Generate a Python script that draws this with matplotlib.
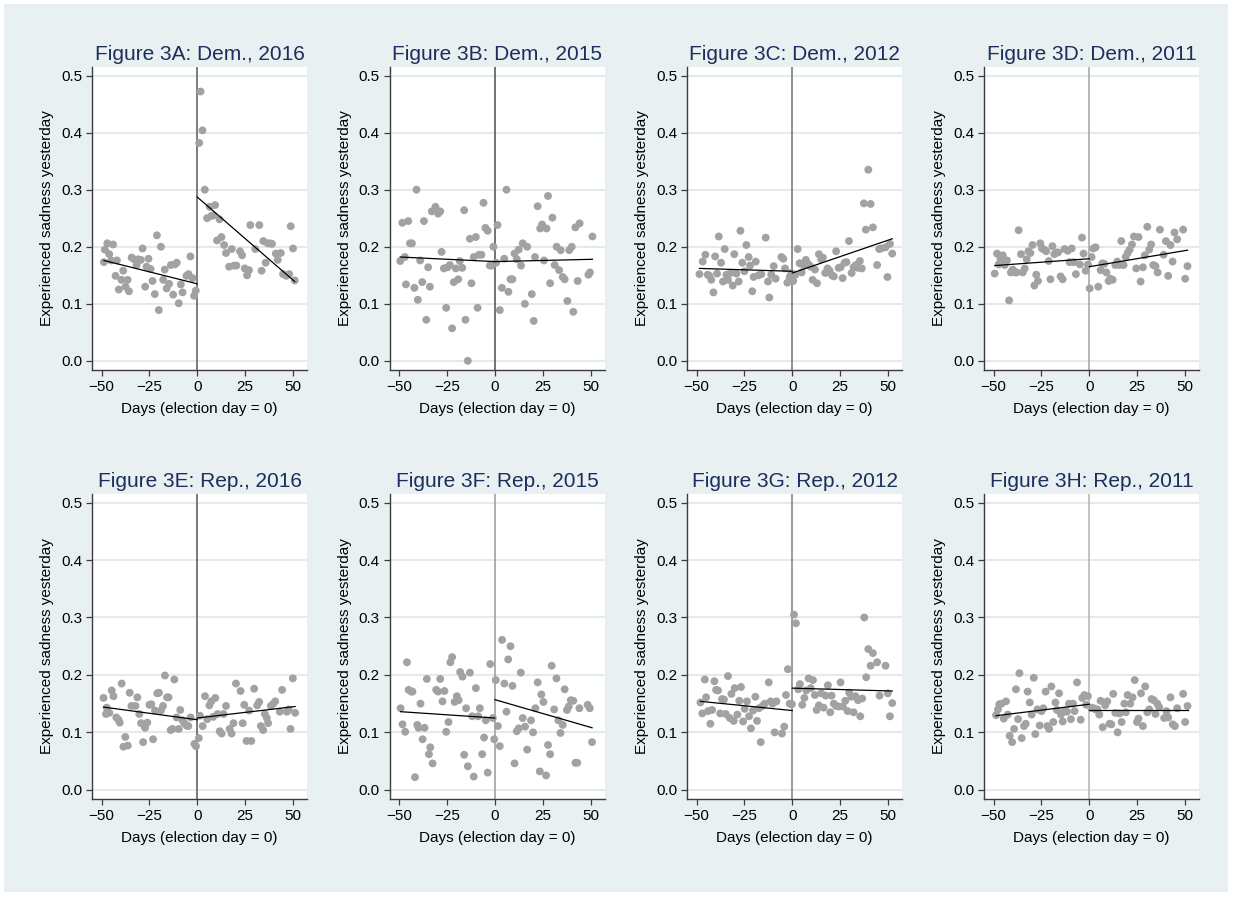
#!/usr/bin/env python3
"""Daily share reporting sadness around election day, Dem./Rep. respondents, 4 years each."""
import matplotlib.pyplot as plt
from matplotlib.patches import Rectangle

plt.rcParams['font.family'] = ['Liberation Sans', 'DejaVu Sans']

# --- daily means (days relative to election day, share sad yesterday) ---
dem16_days = [-48.8, -48.3, -47, -46, -45, -44, -42.7, -42, -41, -39.6,
              -38.7, -37.5, -36.4, -35.7, -34.3, -33, -31.7, -30.9, -29.5, -28.6,
              -27.2, -26.5, -25.5, -24.4, -23.4, -22.2, -21.1, -20.1, -19, -17.8,
              -17, -16, -14.7, -13.8, -12.6, -11.7, -10.7, -9.7, -8.6, -7.7,
              -5.7, -4.6, -3.6, -2.5, -1.7, -0.8, 1, 1.7, 2.7, 3.9,
              5.1, 6.5, 7.4, 8.3, 9.3, 10.3, 11.6, 12.6, 14, 15,
              16.6, 18, 19.2, 20.4, 22.3, 23.4, 24.8, 26, 27, 27.7,
              30.3, 32.4, 33.6, 34.5, 35.7, 36.8, 38, 39, 41, 42,
              43.6, 44.8, 46.5, 48, 48.8, 50, 50.9]
dem16_sad = [.173, .195, .206, .187, .176, .204, .149, .176, .125, .142,
             .158, .130, .142, .122, .181, .178, .168, .178, .177, .197,
             .130, .165, .179, .161, .140, .117, .220, .089, .200, .142,
             .160, .127, .135, .168, .116, .169, .172, .101, .134, .120,
             .149, .152, .183, .145, .114, .123, .382, .472, .404, .300,
             .250, .270, .254, .255, .273, .211, .248, .217, .203, .189,
             .165, .196, .167, .167, .192, .185, .162, .150, .159, .238,
             .196, .238, .158, .210, .172, .206, .206, .205, .188, .177,
             .189, .152, .149, .152, .236, .197, .141]

dem15_days = [-49.4, -48.3, -47, -46.4, -45.2, -44.3, -43.3, -42, -40.9, -40.2,
              -39, -37.9, -37, -35.8, -34.8, -33.9, -32.9, -31, -29.6, -28.5,
              -27.8, -26.6, -25.4, -24.7, -23.5, -22.3, -21.4, -20.3, -19.1, -18.3,
              -17, -16, -15.3, -14.1, -13, -12.2, -11, -9.9, -9, -8.2,
              -7, -5.9, -4.9, -3.7, -2.6, -1.6, -0.7, 0.7, 1.4, 2.6,
              3.7, 4.9, 6.1, 7.1, 8.2, 9.2, 10.3, 11.5, 12.5, 13.7,
              14.6, 15.7, 16.9, 19.3, 20.3, 21, 22.4, 23.7, 24.7, 25.7,
              27, 27.8, 28.9, 30.1, 31.3, 32.3, 33.6, 34.4, 35.5, 36.5,
              37.9, 38.9, 40.2, 41, 42.1, 43.3, 44.3, 48.9, 49.7, 51]
dem15_sad = [.175, .242, .182, .134, .245, .206, .206, .128, .300, .107,
             .176, .138, .245, .072, .164, .130, .262, .270, .258, .262,
             .191, .162, .093, .164, .168, .057, .138, .162, .143, .175,
             .163, .264, .072, .000, .214, .136, .182, .217, .093, .186,
             .186, .277, .233, .228, .167, .167, .200, .172, .238, .089,
             .128, .179, .300, .121, .143, .143, .188, .178, .195, .167,
             .206, .100, .200, .117, .070, .182, .271, .232, .239, .176,
             .232, .289, .136, .251, .168, .200, .159, .194, .147, .143,
             .105, .194, .200, .086, .234, .140, .241, .151, .155, .218]

dem12_days = [-48.5, -46.8, -45.4, -44.2, -43.3, -42.3, -41.2, -40.3, -39.3, -38.4,
              -37.2, -36.2, -35.3, -34.4, -33.6, -32.3, -31.1, -30.3, -29.2, -28,
              -27.1, -26.1, -25, -24, -22.8, -22.1, -20.9, -20.2, -19.1, -17.6,
              -16.2, -13.9, -12.7, -12, -11, -9.7, -8.7, -5.7, -4.7, -3.8,
              -2.6, -1.4, -0.5,
              0.5, 1.7, 2.8, 3.8, 4.9, 6.1, 7.1, 8.5, 9.6, 10.6,
              11.8, 12.9, 13.9, 15.1, 16, 17.2, 18.4, 19.5, 20.7, 21.7,
              22.9, 24.2, 25.2, 26.3, 27.3, 28.3, 29.6, 31, 32, 33.2,
              34.3, 35.3, 36.3, 37.4, 38.4, 39.7, 40.9, 42.1, 44.3, 45.4,
              46.4, 48.7, 49.7, 51, 52.2]
dem12_sad = [.152, .174, .186, .151, .149, .142, .120, .183, .153, .218,
             .172, .139, .196, .151, .142, .154, .132, .187, .153, .139,
             .228, .172, .157, .203, .182, .167, .122, .147, .174, .150,
             .152, .216, .139, .111, .151, .166, .144, .182, .179, .162,
             .137, .147, .154,
             .140, .151, .196, .171, .155, .167, .177, .169, .165, .142,
             .160, .136, .187, .178, .181, .154, .162, .158, .150, .148,
             .192, .163, .164, .145, .172, .173, .210, .154, .164, .168,
             .163, .175, .162, .276, .230, .335, .275, .234, .168, .196,
             .197, .199, .147, .205, .188]

dem11_days = [-49.4, -48.2, -47.3, -46.4, -45.2, -44.2, -43, -41.9, -41, -40,
              -38.8, -37.9, -36.9, -35.7, -34.8, -33.7, -32.7, -31.8, -30.8, -29.7,
              -28.7, -27.7, -26.8, -25.6, -24.7, -23.5, -22.5, -21.2, -20.3, -19.3,
              -18.3, -17.2, -16.3, -15, -13.9, -12.9, -11.3, -10.3, -9.2, -8.2,
              -7, -4.9, -3.8, -3, -1.9, -0.7,
              0.2, 1.2, 2.1, 3.3, 4.7, 5.9, 6.8, 7.8, 8.9, 10.1,
              11, 12.2, 13.6, 14.6, 15.7, 16.7, 17.9, 19, 20, 21.1,
              22.3, 23.3, 24.5, 25.7, 26.8, 28, 29, 30.3, 31.3, 32.3,
              33.4, 34.6, 35.7, 36.9, 38.8, 40, 41.2, 42.4, 43.5, 44.5,
              45.9, 49, 50.1, 51.3]
dem11_sad = [.153, .188, .169, .179, .185, .168, .176, .106, .155, .160,
             .155, .155, .229, .187, .155, .162, .178, .192, .189, .203,
             .132, .151, .140, .206, .197, .195, .192, .175, .143, .201,
             .187, .190, .190, .148, .143, .196, .193, .173, .197, .173,
             .152, .169, .216, .188, .158, .169,
             .127, .182, .197, .199, .130, .159, .171, .170, .155, .140,
             .144, .142, .168, .174, .168, .210, .168, .182, .189, .195,
             .204, .218, .162, .217, .139, .164, .185, .235, .195, .204,
             .168, .166, .155, .230, .186, .210, .149, .203, .174, .225,
             .213, .230, .144, .166]

rep16_days = [-49, -47.7, -47.3, -45.9, -44.7, -43.8, -42.3, -41.2, -40.5, -39.5,
              -38.6, -37.6, -36.3, -35.3, -34.4, -32.3, -31.3, -30.3, -29.4, -28.3,
              -27.3, -26.1, -25, -24, -23.1, -22.1, -20.9, -20, -19, -17.9,
              -16.9, -15.8, -15, -13.9, -13, -12, -10.8, -9.7, -8.9, -7.7,
              -6.8, -5.6, -4.7, -3.5, -1.5, -0.7,
              0.8, 1.4, 2.8, 4, 5.2, 6.3, 7.3, 8.3, 9.4, 10.6,
              11.7, 12.7, 13.7, 15, 16.9, 17.9, 18.9, 20.2, 22.6, 23.7,
              24.5, 25.7, 27.1, 28.2, 29.7, 31.3, 32.3, 33.2, 34.4, 35.3,
              36.3, 37, 38.4, 39.7, 40.7, 43.1, 44.3, 46.8, 47.7, 48.7,
              49.9, 51.1]
rep16_sad = [.160, .132, .143, .134, .173, .163, .126, .122, .117, .185,
             .075, .092, .077, .169, .146, .146, .161, .132, .116, .083,
             .108, .117, .148, .149, .088, .138, .168, .169, .138, .146,
             .199, .161, .161, .104, .106, .192, .126, .106, .139, .121,
             .116, .112, .111, .126, .080, .076,
             .090, .129, .111, .163, .123, .147, .154, .127, .160, .132,
             .102, .098, .132, .146, .106, .098, .116, .185, .172, .116,
             .148, .085, .138, .085, .176, .147, .153, .111, .104, .132,
             .125, .116, .146, .150, .154, .136, .174, .136, .140, .106,
             .194, .134]

rep15_days = [-49.2, -48.2, -46.8, -45.9, -45, -43.7, -43, -41.7, -40.5, -39.8,
              -38.8, -37.7, -36.7, -35.5, -34.4, -33.7, -32.5, -30.6, -29.6, -28.5,
              -27.3, -26.3, -25.4, -24.2, -23.2, -22.3, -21, -19.8, -18.9, -18.1,
              -16.9, -16, -15, -14.1, -13, -11.8, -11, -9.9, -8.7, -7.8,
              -6.6, -5.6, -4.7, -3.7, -2.4, -1, -0.3,
              0.5, 1.6, 2.6, 3.8, 5, 6.1, 7, 8.2, 9.2, 10.3,
              11.5, 12.5, 13.6, 14.6, 15.8, 16.9, 18.9, 20, 21.2, 22.4,
              23.5, 24.3, 25.4, 26.8, 27.8, 28.9, 29.7, 31, 32.2, 33.2,
              34.3, 35.5, 36.5, 37.7, 38.6, 39.7, 41, 42.1, 43.1, 44.2,
              48.5, 49.6, 50.8]
rep15_sad = [.142, .114, .101, .222, .174, .171, .171, .022, .113, .108,
             .150, .088, .108, .193, .062, .074, .046, .174, .171, .193,
             .154, .172, .101, .118, .222, .231, .153, .163, .156, .205,
             .197, .061, .142, .041, .204, .128, .023, .177, .128, .142,
             .062, .091, .121, .030, .219, .125, .088,
             .191, .111, .076, .261, .185, .136, .227, .250, .181, .046,
             .102, .107, .204, .125, .110, .070, .121, .100, .142, .187,
             .032, .166, .153, .025, .078, .062, .216, .140, .194, .121,
             .099, .113, .175, .139, .145, .156, .155, .047, .047, .142,
             .148, .142, .083]

rep12_days = [-48, -47, -45.7, -45, -44, -42.8, -41.9, -40.7, -39.8, -38.8,
              -37.7, -36.7, -35.7, -34.8, -33.6, -32.7, -31.8, -30.6, -30.1, -28.7,
              -27.7, -26.8, -25.7, -24.9, -23.7, -22.6, -21.6, -20.5, -19.3, -18.4,
              -17.4, -16.5, -15.5, -14.4, -12.3, -11.3, -10.3, -9.2, -8.3, -5.4,
              -4.2, -3.3, -2.3, -1.4, -0.2,
              0.9, 1.9, 3.1, 4, 5.2, 6.3, 7.3, 8.5, 9.6, 10.8,
              11.8, 12.7, 13.9, 15.1, 16.3, 17.4, 18.6, 19.8, 20.5, 21.7,
              22.8, 24.2, 25.2, 26.4, 27.7, 28.9, 29.7, 30.8, 32, 33,
              34.3, 35.5, 36.5, 37.6, 38.6, 39.7, 40.9, 42.1, 44.3, 45.6,
              48.7, 49.9, 51, 52.2]
rep12_sad = [.152, .133, .192, .161, .137, .115, .139, .189, .174, .173,
             .133, .158, .157, .132, .198, .125, .167, .120, .177, .131,
             .155, .179, .119, .141, .154, .128, .107, .138, .162, .120,
             .142, .083, .146, .150, .187, .154, .150, .100, .154, .098,
             .110, .165, .210, .150, .149,
             .305, .290, .175, .184, .148, .160, .173, .194, .177, .191,
             .165, .139, .147, .168, .143, .164, .182, .135, .164, .150,
             .146, .145, .187, .145, .155, .137, .169, .162, .135, .163,
             .156, .128, .159, .300, .196, .245, .216, .238, .222, .164,
             .216, .168, .128, .151]

rep11_days = [-48.7, -47.7, -47, -45.9, -44.7, -43.5, -42.6, -41.6, -40.3, -39.3,
              -38.3, -37.2, -36.5, -35.3, -34.1, -33.2, -32.2, -31.1, -30.1, -29,
              -28.2, -27.1, -25.9, -25, -24, -22.8, -21.9, -21, -19.8, -18.8,
              -17.7, -16.9, -15.8, -14.8, -13.9, -12.9, -11.7, -10.6, -9.6, -8.5,
              -7.7, -6.4, -4.5, -3.7, -2.6, -1.6, -0.7,
              1, 2.3, 3.3, 4.2, 5.2, 5.9, 7, 8.3, 9.4, 10.6,
              11.5, 12.5, 13.6, 14.8, 15.8, 16.9, 18.3, 19.1, 20, 21.4,
              22.6, 23.7, 24.9, 25.7, 27, 28, 29.2, 30.3, 31.3, 32.5,
              33.7, 34.6, 35.5, 36.5, 39.1, 40.3, 41.2, 42.4, 43.6, 44.7,
              45.9, 49, 50.1, 51.3]
rep11_sad = [.130, .140, .149, .150, .124, .154, .131, .094, .083, .106,
             .175, .123, .203, .090, .111, .115, .171, .152, .131, .195,
             .097, .140, .112, .137, .142, .171, .111, .106, .180, .118,
             .152, .139, .168, .131, .119, .137, .136, .150, .123, .150,
             .137, .187, .122, .160, .165, .148, .163,
             .143, .142, .140, .140, .131, .155, .109, .147, .154, .115,
             .114, .167, .134, .100, .133, .118, .150, .135, .165, .150,
             .161, .191, .118, .124, .168, .111, .180, .135, .140, .158,
             .156, .132, .150, .144, .125, .137, .126, .161, .114, .111,
             .142, .167, .118, .146]

# linear fits before / after election day: (value at first day, value at day 0)
# and (value at day 0, value at last day)
dem16_fit = [.176, .135, .287, .139]
dem15_fit = [.182, .174, .174, .178]
dem12_fit = [.162, .157, .154, .214]
dem11_fit = [.167, .179, .165, .194]
rep16_fit = [.144, .122, .125, .145]
rep15_fit = [.136, .125, .157, .108]
rep12_fit = [.154, .138, .177, .172]
rep11_fit = [.129, .149, .139, .139]

titles = ['Figure 3A: Dem., 2016', 'Figure 3B: Dem., 2015',
          'Figure 3C: Dem., 2012', 'Figure 3D: Dem., 2011',
          'Figure 3E: Rep., 2016', 'Figure 3F: Rep., 2015',
          'Figure 3G: Rep., 2012', 'Figure 3H: Rep., 2011']

panels = [
    (dem16_days, dem16_sad, dem16_fit, '#5a5a5a'),
    (dem15_days, dem15_sad, dem15_fit, '#4d4d4d'),
    (dem12_days, dem12_sad, dem12_fit, '#707070'),
    (dem11_days, dem11_sad, dem11_fit, '#a3a3a3'),
    (rep16_days, rep16_sad, rep16_fit, '#555555'),
    (rep15_days, rep15_sad, rep15_fit, '#999999'),
    (rep12_days, rep12_sad, rep12_fit, '#808080'),
    (rep11_days, rep11_sad, rep11_fit, '#b3b3b3'),
]

BG = '#e8f0f2'
TITLE_COLOR = '#1c2e5c'
W, H = 1233, 897

fig = plt.figure(figsize=(W / 100, H / 100), dpi=100, facecolor='white')
fig.patches.append(Rectangle((4 / W, 5 / H), 1 - 9 / W, 1 - 9 / H,
                             transform=fig.transFigure, facecolor=BG,
                             edgecolor='none', zorder=-10))

col_left = [92, 389.5, 687, 984]
row_span = [(67, 370), (494, 799)]
ax_w = 215

for i, (days, sad, fit, vcol) in enumerate(panels):
    assert len(days) == len(sad)
    r, c = divmod(i, 4)
    top, bottom = row_span[r]
    ax = fig.add_axes([col_left[c] / W, 1 - bottom / H, ax_w / W, (bottom - top) / H])
    ax.set_facecolor('white')

    ax.scatter(days, sad, s=32, color='#a2a2a2', edgecolors='none', zorder=3)
    pre_x = [min(days), 0]
    post_x = [0, max(days)]
    ax.plot(pre_x, fit[:2], color='black', lw=0.9, zorder=4)
    ax.plot(post_x, fit[2:], color='black', lw=0.9, zorder=4)
    ax.axvline(0, color=vcol, lw=1.1, zorder=2)

    ax.set_xlim(-55, 57.3)
    ax.set_ylim(-0.016, 0.515)
    ax.set_xticks([-50, -25, 0, 25, 50])
    ax.set_yticks([0, 0.1, 0.2, 0.3, 0.4, 0.5])
    ax.set_yticklabels(['0.0', '0.1', '0.2', '0.3', '0.4', '0.5'])
    ax.yaxis.grid(True, color='#e2eaee', lw=1.5)
    ax.set_axisbelow(True)

    for side in ('top', 'right'):
        ax.spines[side].set_visible(False)
    for side in ('left', 'bottom'):
        ax.spines[side].set_color('#3c3c3c')
        ax.spines[side].set_linewidth(1.0)
    ax.tick_params(direction='out', length=4, width=0.9, color='#3c3c3c',
                   labelsize=11, labelcolor='black', pad=3)

    ax.set_ylabel('Experienced sadness yesterday', fontsize=11, labelpad=5)
    ax.set_xlabel('Days (election day = 0)', fontsize=11, labelpad=6)
    ax.set_title(titles[i], fontsize=15, color=TITLE_COLOR, pad=5)

fig.savefig('out.png', dpi=100, facecolor=fig.get_facecolor())
